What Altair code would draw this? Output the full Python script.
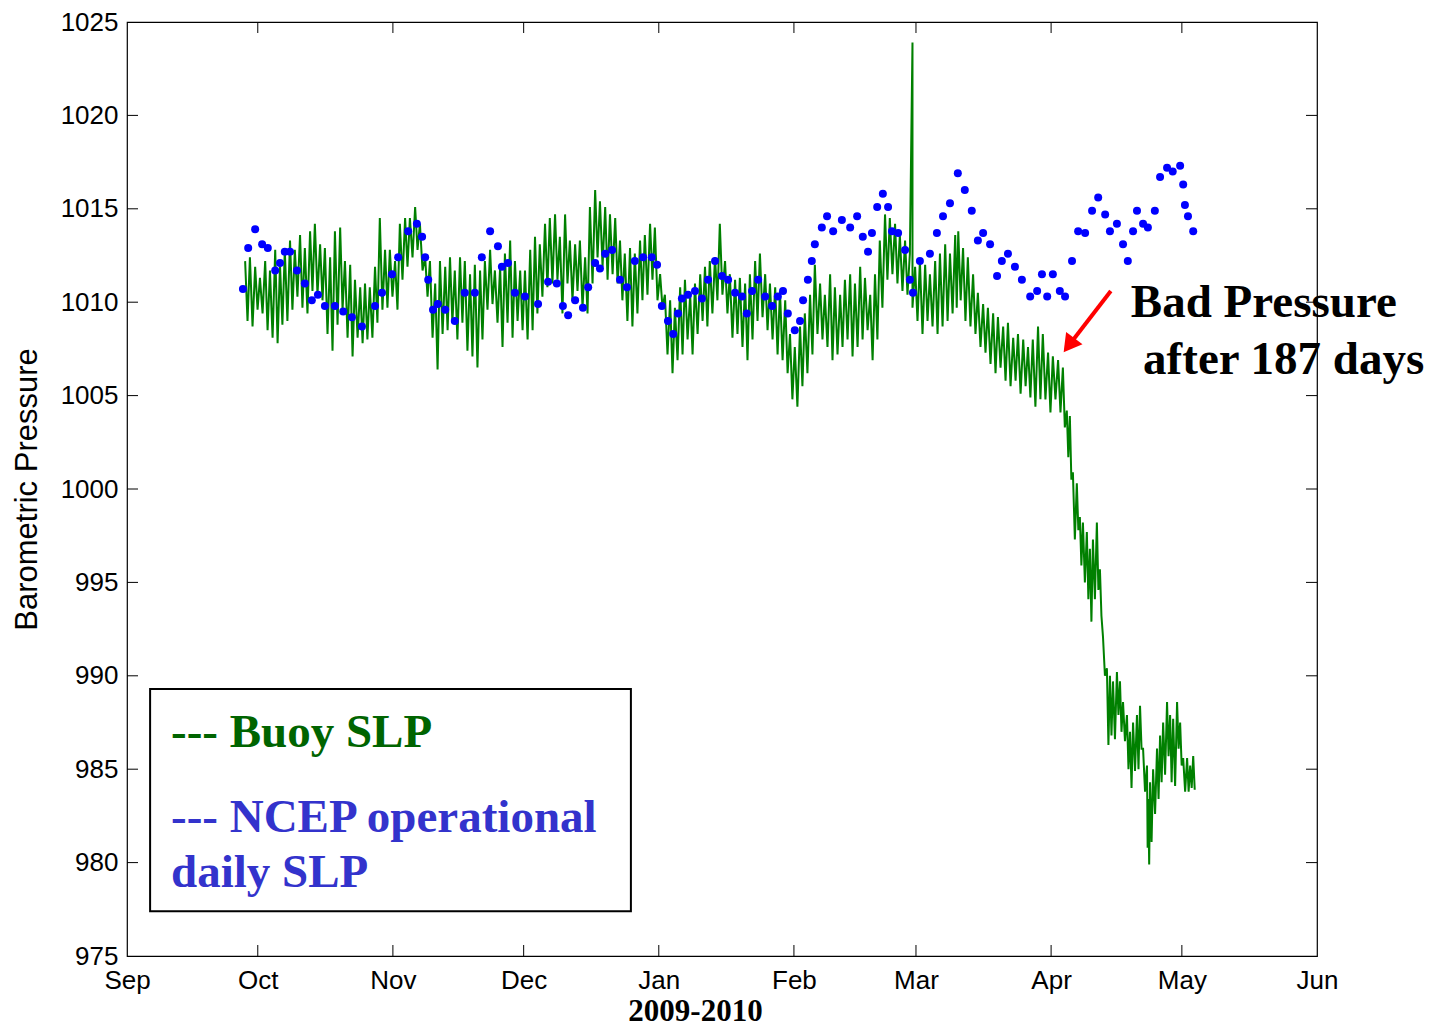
import altair as alt
import pandas as pd

# ---------------- data ----------------
# days since 2009-09-01
BASE = pd.Timestamp("2009-09-01")

# Buoy SLP (green): local high / low of the trace at each sample day
buoy_day = [27.1, 28.2, 29.4, 30.5, 31.7, 32.8, 34.0, 35.1, 36.2, 37.4, 38.5, 39.7, 40.8, 42.0, 43.1, 44.3,
            45.4, 46.6, 47.7, 48.9, 50.0, 51.2, 52.3, 53.5, 54.6, 55.7, 56.9, 58.0, 59.2, 60.3, 61.5, 62.6,
            63.8, 64.9, 66.1, 67.2, 68.4, 69.5, 70.7, 71.8, 73.0, 74.1, 75.2, 76.4, 77.5, 78.7, 79.8, 81.0,
            82.1, 83.3, 84.4, 85.6, 86.7, 87.9, 89.0, 90.2, 91.3, 92.5, 93.6, 94.7, 95.9, 97.0, 98.2,
            99.3, 100.5, 101.6, 102.8, 103.9, 105.1, 106.2, 107.4, 108.5, 109.7, 110.8, 112.0, 113.1, 114.2,
            115.4, 116.5, 117.7, 118.8, 120.0, 121.1, 122.3, 123.4, 124.6, 125.7, 126.9, 128.0, 129.2, 130.3,
            131.5, 132.6, 133.7, 134.9, 136.0, 137.2, 138.3, 139.5, 140.6, 141.8, 142.9, 144.1, 145.2, 146.4,
            147.5, 148.7, 149.8, 151.0, 152.1, 153.2, 154.4, 155.5, 156.7, 157.8, 159.0, 160.1, 161.3, 162.4,
            163.6, 164.7, 165.9, 167.0, 168.2, 169.3, 170.5, 171.6, 172.7, 173.9, 175.0, 176.2, 177.3, 178.5,
            179.6,
            180.8, 181.9, 183.1, 184.2, 185.4, 186.5, 187.7, 188.8, 190.0, 190.7, 191.8, 192.9, 194.1, 195.2,
            196.4, 197.5, 198.7, 199.8, 201.0, 202.1, 203.3, 204.4, 205.6, 206.7, 207.8, 209.0, 210.1, 211.3,
            212.4, 213.6, 214.7, 215.6, 216.3, 217.0, 217.9, 218.6, 219.3, 220.2, 220.9, 221.6, 222.5, 223.2,
            223.9, 224.8, 225.5, 226.2, 227.1, 227.8, 228.5, 229.4, 230.1, 230.8, 231.7, 232.4, 233.1, 234.0,
            234.3, 234.7, 235.4, 236.3, 237.0, 237.7, 238.6, 239.3, 240.0, 240.9, 241.6, 242.3, 243.2, 243.9,
            244.6]
buoy_hi = [1012.2, 1012.4, 1011.9, 1011.3, 1012.2, 1011.7, 1012.8, 1012.0, 1012.8, 1013.3, 1012.8, 1013.6,
           1012.9, 1013.8, 1014.2, 1013.1, 1012.9, 1012.4, 1013.8, 1014.0, 1012.2, 1012.0, 1011.2, 1010.8,
           1011.0, 1010.8, 1011.9, 1014.5, 1012.8, 1012.8, 1012.2, 1014.2, 1014.5, 1014.5, 1015.1, 1014.2,
           1012.4, 1012.2, 1011.0, 1012.2, 1011.9, 1012.4, 1011.7, 1012.4, 1012.2, 1011.5, 1012.0, 1011.7,
           1012.2, 1012.8, 1011.7, 1011.9, 1012.6, 1013.3, 1012.2, 1011.7, 1011.7, 1012.8, 1013.5, 1013.1,
           1014.2, 1014.5, 1014.7,
           1013.5, 1014.7, 1013.3, 1013.1, 1013.3, 1012.4, 1015.1, 1016.0, 1015.4, 1015.1, 1014.7, 1014.5,
           1013.3, 1012.6, 1012.9, 1012.6, 1013.3, 1013.6, 1014.2, 1014.0, 1011.5, 1010.4, 1010.1, 1009.7,
           1010.8, 1011.2, 1010.4, 1011.0, 1011.5, 1011.9, 1012.2, 1012.4, 1014.2, 1012.2, 1011.5, 1011.2,
           1011.3, 1011.0, 1011.5, 1012.2, 1012.6, 1011.5, 1011.0, 1010.8, 1010.6, 1010.1, 1008.3, 1007.6,
           1008.7, 1009.4, 1010.4, 1012.0, 1011.0, 1010.4, 1011.5, 1010.8, 1010.4, 1011.2, 1011.5, 1011.0,
           1011.9, 1011.3, 1010.4, 1011.5, 1013.3, 1014.7, 1014.5, 1014.2, 1013.6, 1013.3, 1012.6,
           1011.9, 1012.2, 1012.0, 1011.5, 1012.2, 1012.6, 1013.1, 1012.6, 1013.6, 1013.8, 1012.9, 1012.4,
           1011.5, 1010.5, 1009.9, 1009.7, 1009.4, 1009.2, 1008.7, 1008.9, 1008.1, 1008.3, 1008.0, 1007.6,
           1008.0, 1008.7, 1008.3, 1007.3, 1007.1, 1006.9, 1006.5, 1004.2, 1003.9, 1000.9, 1000.3, 998.5,
           998.2, 997.7, 996.8, 997.3, 998.2, 995.7, 992.1, 990.4, 990.0, 989.7, 990.2, 989.7, 988.6, 987.9,
           987.0, 987.5, 987.9, 988.4, 986.1, 985.2, 983.4, 984.3, 985.0, 986.1, 986.8, 987.5, 988.6, 987.9,
           987.7, 988.6, 987.5, 985.6, 985.6, 985.2, 985.7]
buoy_lo = [1009.0, 1008.7, 1009.6, 1009.4, 1008.5, 1008.1, 1007.8, 1008.8, 1009.0, 1009.6, 1010.3, 1009.7,
           1009.4, 1010.6, 1010.4, 1010.1, 1008.3, 1007.4, 1008.8, 1009.6, 1008.1, 1007.1, 1008.1, 1007.8,
           1008.0, 1008.1, 1008.9, 1009.6, 1009.7, 1010.3, 1009.6, 1011.2, 1011.9, 1012.4, 1012.8, 1011.7,
           1010.3, 1008.1, 1006.4, 1008.3, 1008.5, 1008.9, 1008.0, 1008.9, 1007.4, 1007.1, 1006.5, 1008.0,
           1009.6, 1009.9, 1008.9, 1007.6, 1008.9, 1008.1, 1009.0, 1008.5, 1008.0, 1008.5, 1009.4, 1010.3,
           1010.8, 1011.0, 1011.2,
           1009.4, 1011.0, 1010.1, 1010.6, 1009.7, 1009.4, 1011.0, 1012.4, 1011.9, 1011.2, 1011.5, 1011.0,
           1010.1, 1009.0, 1008.7, 1009.4, 1010.1, 1010.4, 1011.2, 1010.1, 1009.7, 1007.2, 1006.2, 1006.9,
           1007.2, 1008.0, 1007.2, 1008.3, 1009.0, 1008.7, 1009.4, 1010.1, 1010.4, 1009.4, 1008.1, 1008.3,
           1007.6, 1006.9, 1008.0, 1009.0, 1009.2, 1008.5, 1008.0, 1007.2, 1006.9, 1006.2, 1004.8, 1004.4,
           1005.5, 1006.2, 1007.2, 1008.3, 1008.0, 1007.6, 1006.9, 1007.2, 1007.6, 1008.0, 1007.1, 1007.6,
           1008.0, 1008.5, 1006.9, 1008.0, 1009.7, 1011.2, 1011.5, 1011.0, 1010.6, 1010.4, 1009.7,
           1009.0, 1008.3, 1009.0, 1008.7, 1008.3, 1008.7, 1009.0, 1009.4, 1009.7, 1010.1, 1009.0, 1008.7,
           1008.3, 1007.6, 1007.3, 1006.7, 1006.2, 1006.5, 1005.8, 1005.5, 1005.8, 1005.1, 1005.5, 1004.9,
           1004.4, 1004.8, 1004.8, 1004.1, 1004.8, 1004.1, 1003.3, 1001.7, 1000.5, 997.3, 997.8, 995.9,
           995.0, 994.1, 992.9, 994.1, 994.6, 993.2, 990.0, 986.3, 986.8, 986.6, 987.9, 987.0, 986.5, 985.0,
           984.0, 984.9, 985.0, 986.1, 983.8, 980.8, 979.9, 981.1, 982.6, 983.4, 984.3, 984.7, 985.7, 984.3,
           984.1, 986.1, 985.2, 983.8, 983.8, 984.0, 983.9]
# single spike in the buoy record (around 1 March)
spike_day = [180.2]
spike_val = [1023.9]

# NCEP operational daily SLP (blue)
ncep_day = [26.6, 27.8, 29.4, 31.0, 32.3, 34.0, 35.1, 36.2, 37.4, 39.0, 40.8, 42.4, 43.8, 45.4, 47.7, 49.6,
            51.6, 53.9, 56.9, 58.5, 60.8, 62.2, 64.5, 66.5, 67.7, 68.4, 69.1, 70.2, 71.3, 73.0, 75.2, 77.5,
            79.8, 81.4, 83.3, 85.1, 86.0, 87.4, 89.0, 91.3, 94.3, 96.6, 98.6, 100.0, 101.2, 102.8, 104.6,
            105.8, 107.4, 108.5, 109.7, 111.3, 113.1, 114.7, 116.5, 118.4, 120.4, 121.6, 122.7, 124.1, 125.3,
            126.4, 127.3, 128.7, 130.3, 131.9, 133.3, 134.9, 136.5, 137.9, 139.5, 141.1, 142.2, 143.4, 144.8,
            146.4, 148.0, 149.3, 150.5, 151.6, 153.2, 154.4, 155.1, 156.2, 157.1, 157.8, 159.4, 160.6, 162.0,
            164.0, 165.9, 167.5, 168.8, 170.0, 170.9, 172.1, 173.4, 174.6, 175.5, 176.9, 178.5, 179.6, 180.3,
            181.9, 184.2, 185.8, 187.2, 188.8, 190.6, 192.2, 193.8, 195.2, 196.4, 198.0, 199.6, 200.7, 202.1,
            203.7, 205.3, 207.2, 208.8, 209.9, 211.1, 212.4, 214.0, 215.2, 216.8, 218.2, 219.8, 221.4, 222.8,
            224.4, 225.5, 227.1, 228.5, 229.6, 230.8, 231.7, 233.1, 234.2, 235.8, 237.0, 238.6, 239.9, 241.6,
            242.3, 242.7, 243.4, 244.6]
ncep_val = [1010.7, 1012.9, 1013.9, 1013.1, 1012.9, 1011.7, 1012.1, 1012.7, 1012.7, 1011.7, 1011.0, 1010.1,
            1010.4, 1009.8, 1009.8, 1009.5, 1009.2, 1008.7, 1009.8, 1010.5, 1011.5, 1012.4, 1013.8, 1014.2,
            1013.5, 1012.4, 1011.2, 1009.6, 1009.9, 1009.6, 1009.0, 1010.5, 1010.5, 1012.4, 1013.8, 1013.0,
            1011.9, 1012.1, 1010.5, 1010.3, 1009.9, 1011.1, 1011.0, 1009.8, 1009.3, 1010.1, 1009.7, 1010.8,
            1012.1, 1011.8, 1012.6, 1012.8, 1011.2, 1010.8, 1012.2, 1012.4, 1012.4, 1012.0, 1009.8, 1009.0,
            1008.3, 1009.4, 1010.2, 1010.4, 1010.6, 1010.2, 1011.2, 1012.2, 1011.4, 1011.2, 1010.5, 1010.3,
            1009.4, 1010.6, 1011.2, 1010.3, 1009.8, 1010.3, 1010.6, 1009.4, 1008.5, 1009.0, 1010.1, 1011.2,
            1012.2, 1013.1, 1014.0, 1014.6, 1013.8, 1014.4, 1014.0, 1014.6, 1013.5, 1012.7, 1013.7, 1015.1,
            1015.8, 1015.1, 1013.8, 1013.7, 1012.8, 1011.2, 1010.5, 1012.2, 1012.6, 1013.7, 1014.6, 1015.3,
            1016.9, 1016.0, 1014.9, 1013.3, 1013.7, 1013.1, 1011.4, 1012.2, 1012.6, 1011.9, 1011.2, 1010.3,
            1010.6, 1011.5, 1010.3, 1011.5, 1010.6, 1010.3, 1012.2, 1013.8, 1013.7, 1014.9, 1015.6, 1014.7,
            1013.8, 1014.2, 1013.1, 1012.2, 1013.8, 1014.9, 1014.2, 1014.0, 1014.9, 1016.7, 1017.2, 1017.0,
            1017.3, 1016.3, 1015.2, 1014.6, 1013.8]

# axis ticks
y_ticks = [975, 980, 985, 990, 995, 1000, 1005, 1010, 1015, 1020, 1025]
month_years = [2009, 2009, 2009, 2009, 2010, 2010, 2010, 2010, 2010, 2010]
month_nums = [9, 10, 11, 12, 1, 2, 3, 4, 5, 6]

# annotation texts and their anchor (day, value)
legend_lines = ["--- Buoy SLP", "--- NCEP operational", "daily SLP"]
legend_colors = ["#006400", "#3333CC", "#3333CC"]
legend_day = [10.1, 10.1, 10.1]
legend_val = [986.2, 981.65, 978.7]
legend_box_day = [5.3, 115.6]
legend_box_val = [989.3, 977.4]

note_lines = ["Bad Pressure", "after 187 days"]
note_day = [230.3, 233.1]
note_val = [1009.2, 1006.15]
arrow_tail = (225.7, 1010.6)
arrow_head = (216.1, 1007.7)

# ---------------- build tables ----------------
def to_time(days):
    return BASE + pd.to_timedelta(pd.Series(days, dtype=float), unit="D")

g_t, g_v = [], []
for i, d in enumerate(buoy_day):
    nxt = buoy_day[i + 1] if i + 1 < len(buoy_day) else d + 0.7
    g_t += [d, (d + nxt) / 2]
    g_v += [buoy_hi[i], buoy_lo[i]]
g_t += spike_day
g_v += spike_val
green = pd.DataFrame({"d": g_t, "v": g_v}).sort_values("d").reset_index(drop=True)
green["seq"] = range(len(green))
green["t"] = to_time(green["d"])

blue = pd.DataFrame({"t": to_time(ncep_day), "v": ncep_val})

ticks_y = pd.DataFrame({"v": y_ticks[1:-1]})
months = [pd.Timestamp(year=y, month=m, day=1) for y, m in zip(month_years, month_nums)]
ticks_x = pd.DataFrame({"t": months[1:-1]})

legend_df = pd.DataFrame({"t": to_time(legend_day), "v": legend_val, "txt": legend_lines, "c": legend_colors})
box_df = pd.DataFrame({"t": [to_time(legend_box_day)[0]], "t2": [to_time(legend_box_day)[1]],
                       "v": [legend_box_val[0]], "v2": [legend_box_val[1]]})
note_df = pd.DataFrame({"t": to_time(note_day), "v": note_val, "txt": note_lines})
arrow_df = pd.DataFrame({"t": to_time([arrow_tail[0]]), "t2": to_time([arrow_head[0]]),
                         "v": [arrow_tail[1]], "v2": [arrow_head[1]]})
head_df = pd.DataFrame({"t": to_time([arrow_head[0]]), "v": [arrow_head[1]]})

# ---------------- chart ----------------
W, H = 1190, 934
SANS = "Liberation Sans"
SERIF = "Liberation Serif"

x_scale = alt.Scale(domain=[alt.DateTime(year=2009, month=9, date=1),
                            alt.DateTime(year=2010, month=6, date=1)])
y_scale = alt.Scale(domain=[975, 1025], nice=False, zero=False)

x_axis = alt.Axis(values=[alt.DateTime(year=y, month=m, date=1) for y, m in zip(month_years, month_nums)],
                  format="%b", labelFont=SANS, labelFontSize=26, labelColor="black",
                  labelFlush=False, labelOverlap=False, labelBound=False,
                  ticks=False, domain=False, grid=False, labelPadding=11,
                  title="2009-2010", titleFont=SERIF, titleFontSize=31, titleFontWeight="bold",
                  titleColor="black", titleX=568, titleY=64, titleAlign="center",
                  titleBaseline="alphabetic")
y_axis = alt.Axis(values=y_ticks, format="d", labelFont=SANS, labelFontSize=26, labelColor="black",
                  ticks=False, domain=False, grid=False, labelPadding=9, labelFlush=False,
                  title="Barometric Pressure", titleFont=SANS, titleFontSize=31,
                  titleFontWeight="normal", titleColor="black", titleX=-100, titleY=H / 2,
                  titleAngle=270, titleAlign="center", titleBaseline="middle")

X = alt.X("t:T", scale=x_scale, axis=x_axis)
Y = alt.Y("v:Q", scale=y_scale, axis=y_axis)

green_line = alt.Chart(green).mark_line(color="#008000", strokeWidth=2.0, clip=True).encode(
    x=X, y=Y, order="seq:Q")
blue_pts = alt.Chart(blue).mark_point(shape="circle", filled=True, size=64, color="#0000FF",
                                      opacity=1).encode(x=X, y=Y)

box = alt.Chart(box_df).mark_rect(fill="white", stroke="black", strokeWidth=2).encode(
    x=X, x2="t2:T", y=Y, y2="v2:Q")
legend_txt = alt.Chart(legend_df).mark_text(font=SERIF, fontSize=47, fontWeight="bold",
                                            align="left", baseline="alphabetic").encode(
    x=X, y=Y, text="txt:N", color=alt.Color("c:N", scale=None))
note_txt = alt.Chart(note_df).mark_text(font=SERIF, fontSize=47, fontWeight="bold", color="black",
                                        align="left", baseline="alphabetic").encode(
    x=X, y=Y, text="txt:N")
arrow = alt.Chart(arrow_df).mark_rule(color="#FF0000", strokeWidth=4).encode(
    x=X, x2="t2:T", y=Y, y2="v2:Q")
head = alt.Chart(head_df).mark_point(shape="triangle-up", filled=True, size=420, color="#FF0000",
                                     opacity=1, angle=217).encode(x=X, y=Y)

tick_l = alt.Chart(ticks_y).mark_rule(color="black", strokeWidth=1).encode(
    y=Y, x=alt.value(0), x2=alt.value(11))
tick_r = alt.Chart(ticks_y).mark_rule(color="black", strokeWidth=1).encode(
    y=Y, x=alt.value(W - 11), x2=alt.value(W))
tick_t = alt.Chart(ticks_x).mark_rule(color="black", strokeWidth=1).encode(
    x=X, y=alt.value(0), y2=alt.value(11))
tick_b = alt.Chart(ticks_x).mark_rule(color="black", strokeWidth=1).encode(
    x=X, y=alt.value(H - 11), y2=alt.value(H))

chart = alt.layer(
    green_line, blue_pts, box, legend_txt, note_txt, arrow, head, tick_l, tick_r, tick_t, tick_b
).properties(
    width=W, height=H,
    autosize=alt.AutoSizeParams(type="none"),
    padding={"left": 119, "top": 14, "right": 113, "bottom": 71},
    background="white",
).configure_view(stroke="black", strokeWidth=1.2)

chart.save("out.html", embed_options={"renderer": "svg", "actions": False})
